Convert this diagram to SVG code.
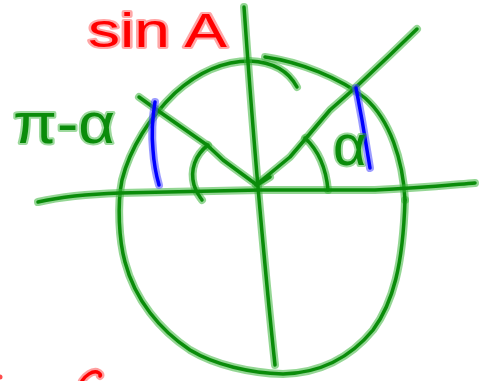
<svg xmlns="http://www.w3.org/2000/svg" width="483" height="381" viewBox="0 0 483 381">
<style>
.gh{fill:none;stroke:#3cb43c;stroke-opacity:.55;stroke-width:8;stroke-linecap:round;stroke-linejoin:round}
.gc{fill:none;stroke:#0a8c0a;stroke-width:3.5;stroke-linecap:round;stroke-linejoin:round}
.bh{fill:none;stroke:#4a4aff;stroke-opacity:.55;stroke-width:8;stroke-linecap:round;stroke-linejoin:round}
.bc{fill:none;stroke:#0000ff;stroke-width:3.5;stroke-linecap:round;stroke-linejoin:round}
.rh{fill:none;stroke:#ff5050;stroke-opacity:.55;stroke-width:8;stroke-linecap:round;stroke-linejoin:round}
.rc{fill:none;stroke:#ff0000;stroke-width:3.5;stroke-linecap:round;stroke-linejoin:round}
.t{font-family:"Liberation Sans","DejaVu Sans",sans-serif;paint-order:stroke;stroke-linejoin:round}
.tg{fill:#0a8c0a;stroke:#3cb43c;stroke-opacity:.5;stroke-width:4}
.tr{fill:#ff0000;stroke:#ff5050;stroke-opacity:.5;stroke-width:4}
</style>
<defs>
<path id="circA" d="M297,87 C288,70 272,62 250,61 C220,61 195,75 175,93 C150,117 130,148 122,180 C117,205 119,240 125,262 C135,300 160,330 190,350 C215,365 250,373 283,374 C320,373 350,358 373,330 C393,303 403,265 405,200"/>
<path id="circB" d="M265,57 C300,62 340,78 365,98 C390,120 403,160 405,200"/>
<path id="vax" d="M244,7 Q252,120 260,210 T275,365"/>
<path id="hax" d="M38,202 C60,197 90,194 120,193 L260,190 L375,190 C420,188 450,185 475,183"/>
<path id="rdiag" d="M256,185 L290,157 L330,110 L355,88 L390,55 L417,29"/>
<path id="ldiag" d="M139,97 L157,110 L207,145 L223,160 L257,185 L270,177"/>
<path id="larc" d="M208,145 C195,155 190,170 194,185 C196,193 200,197 202,200"/>
<path id="rarc" d="M305,138 C318,150 326,168 328,190"/>
<path id="lblue" d="M155,102 C152,120 152,140 153,150 C154,165 157,178 159,185"/>
<path id="rblue" d="M356,88 L362,120 L370,168"/>
<path id="rfrag" d="M82,381 C86,375 92,371 97,372 C100,373 101,375 100,376"/>
</defs>
<g id="circle"><use href="#circA" class="gh"/><use href="#circB" class="gh"/><use href="#circA" class="gc"/><use href="#circB" class="gc"/></g>
<g id="connectors">
<use href="#vax" class="gh"/><use href="#hax" class="gh"/><use href="#rdiag" class="gh"/><use href="#ldiag" class="gh"/><use href="#larc" class="gh"/><use href="#rarc" class="gh"/>
<use href="#vax" class="gc"/><use href="#hax" class="gc"/><use href="#rdiag" class="gc"/><use href="#ldiag" class="gc"/><use href="#larc" class="gc"/><use href="#rarc" class="gc"/>
</g>
<g id="blue-segments"><use href="#lblue" class="bh"/><use href="#rblue" class="bh"/><use href="#lblue" class="bc"/><use href="#rblue" class="bc"/></g>
<g id="label-sinA"><text class="t tr" x="88" y="47" font-size="48" textLength="139" lengthAdjust="spacingAndGlyphs">sin A</text></g>
<g id="label-pi-alpha"><text class="t tg" x="13" y="143" font-size="58" textLength="102" lengthAdjust="spacingAndGlyphs">π-α</text></g>
<g id="label-alpha"><text class="t tg" x="333" y="165" font-size="58">α</text></g>
<g id="red-fragments"><use href="#rfrag" class="rh"/><use href="#rfrag" class="rc"/><circle cx="0" cy="377" r="2.5" fill="#ff0000" opacity=".7"/></g>
</svg>
